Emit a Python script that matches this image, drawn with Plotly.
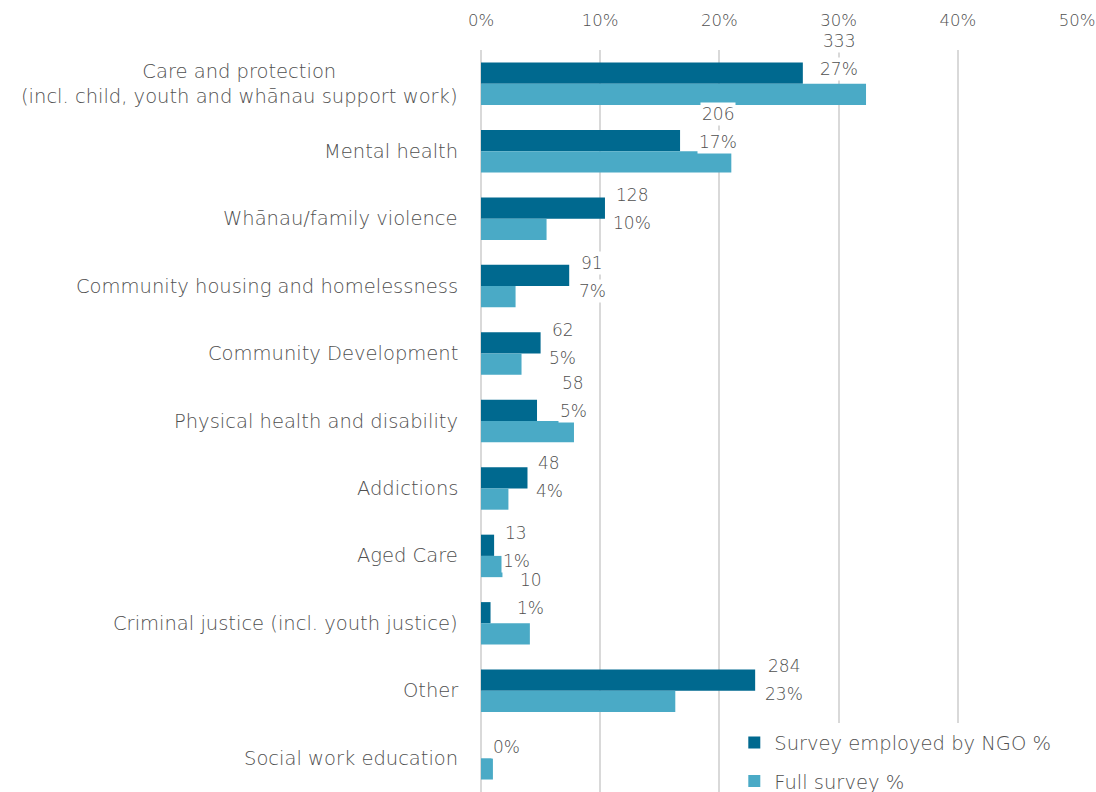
import plotly.graph_objects as go

# Practice areas, top to bottom
categories = [
    "Care and protection<br>(incl. child, youth and whānau support work)",
    "Mental health",
    "Whānau/family violence",
    "Community housing and homelessness",
    "Community Development",
    "Physical health and disability",
    "Addictions",
    "Aged Care",
    "Criminal justice (incl. youth justice)",
    "Other",
    "Social work education",
]

# Respondents employed by an NGO: headcount and share (%)
ngo_counts = [333, 206, 128, 91, 62, 58, 48, 13, 10, 284, None]
ngo_pct = [27.0, 16.7, 10.4, 7.4, 5.0, 4.7, 3.9, 1.1, 0.8, 23.0, 0.0]

# Whole survey share (%)
full_pct = [32.3, 21.0, 5.5, 2.9, 3.4, 7.8, 2.3, 1.8, 4.1, 16.3, 1.0]

x_ticks = [0, 10, 20, 30, 40, 50]

DARK = "#00698f"
LIGHT = "#4aaac6"
TEXT = "#505050"
GRID = "#d9d9d9"
FONT = "DejaVu Sans"
WEIGHT = 300

# Label placement tweaks (pixels): horizontal offset of label centre from the
# bar end, and vertical offset of the % line from the category centre.
label_dx = [36, 38, 27, 23, 22, 36, 22, 22, 40, 29, 25]
label_dy = [-15, -9, 4, 5, 4, -10, 3, 5, -15, 3, -11]


def txt(size):
    return dict(family=FONT, size=size, color=TEXT, weight=WEIGHT)


fig = go.Figure()
fig.add_trace(go.Bar(
    y=categories, x=ngo_pct, orientation="h", name="Survey employed by NGO %",
    marker=dict(color=DARK, line=dict(width=0)), legendgroup="a",
))
fig.add_trace(go.Bar(
    y=categories, x=full_pct, orientation="h", name="Full survey %",
    marker=dict(color=LIGHT, line=dict(width=0)), legendgroup="b",
))

annotations = []
for i, cat in enumerate(categories):
    # category labels, centred lines, right edge next to the axis
    annotations.append(dict(
        x=0, xref="paper", y=cat, yref="y", text=cat, showarrow=False,
        xanchor="right", yanchor="middle", align="center", xshift=-21,
        font=txt(19.5),
    ))
    pct_label = f"{round(ngo_pct[i])}%"
    annotations.append(dict(
        x=ngo_pct[i], xref="x", y=cat, yref="y", text=pct_label, showarrow=False,
        xanchor="center", yanchor="middle", xshift=label_dx[i], yshift=-label_dy[i],
        bgcolor="white", font=txt(17),
    ))
    if ngo_counts[i] is not None:
        annotations.append(dict(
            x=ngo_pct[i], xref="x", y=cat, yref="y", text=str(ngo_counts[i]),
            showarrow=False, xanchor="center", yanchor="middle",
            xshift=label_dx[i], yshift=-label_dy[i] + 28,
            bgcolor="white", font=txt(17),
        ))

fig.update_layout(
    width=1096, height=792,
    margin=dict(l=481, r=19, t=50, b=0, autoexpand=False),
    paper_bgcolor="white", plot_bgcolor="white",
    barmode="group", bargap=0.37, bargroupgap=0,
    font=txt(17),
    annotations=annotations,
    legend=dict(
        x=0.425, y=0.0924, xanchor="left", yanchor="top",
        bgcolor="white", font=txt(19.5),
        traceorder="grouped", tracegroupgap=10, itemwidth=30,
    ),
    xaxis=dict(
        side="top", range=[0, 50], tickvals=x_ticks,
        ticktext=[f"{v}%" for v in x_ticks],
        showgrid=True, gridcolor=GRID, gridwidth=1.5,
        zeroline=True, zerolinecolor=GRID, zerolinewidth=1.5,
        showline=False, ticks="", ticklabelstandoff=20,
        tickfont=txt(16.5),
    ),
    yaxis=dict(
        autorange="reversed", showticklabels=False, ticks="",
        showgrid=False, zeroline=False, showline=False,
    ),
)

fig.write_html("out.html")
